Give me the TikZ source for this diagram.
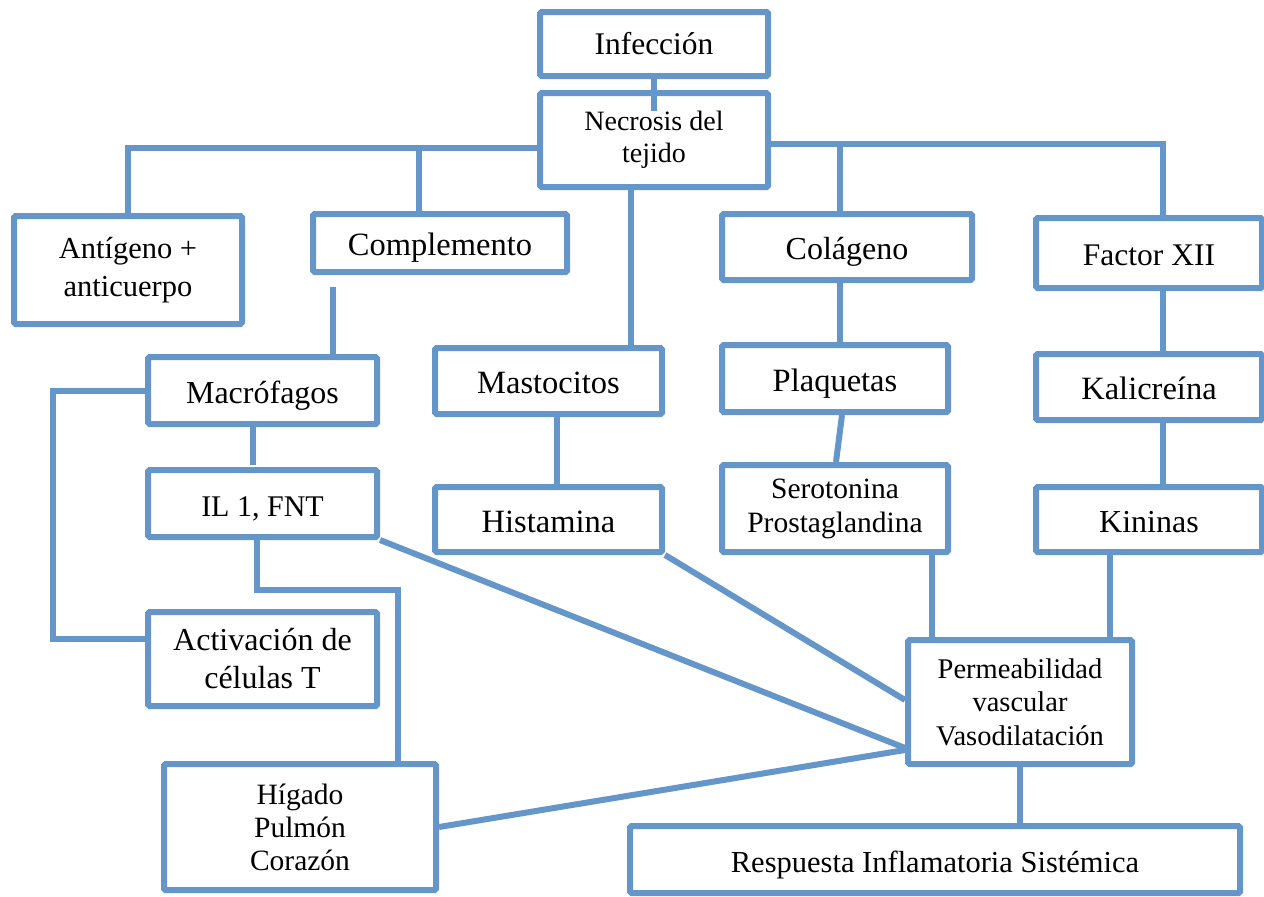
\documentclass[tikz,border=0pt]{standalone}
\usepackage{fontspec}
\setmainfont{Liberation Serif}
\definecolor{lineblue}{RGB}{100,150,202}
\tikzset{
  box/.style={draw=lineblue, line width=6pt, rounded corners=1.5pt, fill=white,
    inner sep=0pt, align=center, text=black},
  low/.style={text height=27pt, text depth=1.5pt},
  conn/.style={draw=lineblue, line width=6pt},
}
\newcommand{\fs}[2]{\fontsize{#1}{#2}\selectfont}
\begin{document}
\begin{tikzpicture}[x=1pt,y=-1pt]
\useasboundingbox (0,0) rectangle (1264,897);
% nodes
\node[box, minimum width=228pt, minimum height=64pt, font=\fs{31.5}{34}] (inf) at (654,44) {Infección};
\node[box, minimum width=228pt, minimum height=94pt, font=\fs{28}{32}] (nec) at (654,140) {Necrosis del\\tejido};
\node[box, minimum width=228pt, minimum height=108pt, font=\fs{30.5}{38}] (ant) at (128,270) {Antígeno +\\anticuerpo};
\node[box, low, minimum width=254pt, minimum height=58pt, font=\fs{32.5}{36}] (com) at (440,243) {Complemento};
\node[box, low, minimum width=250pt, minimum height=66pt, font=\fs{32}{36}] (col) at (847,247) {Colágeno};
\node[box, low, minimum width=226pt, minimum height=70pt, font=\fs{31.5}{36}] (fac) at (1149,253) {Factor XII};
\node[box, low, minimum width=229pt, minimum height=67pt, font=\fs{32}{36}] (mac) at (262.5,390.5) {Macrófagos};
\node[box, low, minimum width=227pt, minimum height=66pt, font=\fs{32.5}{36}] (mas) at (548.5,381) {Mastocitos};
\node[box, low, minimum width=226pt, minimum height=67pt, font=\fs{32.5}{36}] (pla) at (835,378.5) {Plaquetas};
\node[box, low, minimum width=226pt, minimum height=66pt, font=\fs{32.5}{36}] (kal) at (1149,387) {Kalicreína};
\node[box, low, minimum width=229pt, minimum height=67pt, font=\fs{30}{36}] (il) at (262.5,503.5) {IL 1, FNT};
\node[box, low, minimum width=227pt, minimum height=65pt, font=\fs{32.5}{36}] (his) at (548.5,519.5) {Histamina};
\node[box, minimum width=226pt, minimum height=87pt, font=\fs{29.5}{34}] (ser) at (835,508.5) {Serotonina\\Prostaglandina};
\node[box, low, minimum width=226pt, minimum height=65pt, font=\fs{32}{36}] (kin) at (1149,519.5) {Kininas};
\node[box, minimum width=229pt, minimum height=94pt, font=\fs{32}{38}] (act) at (262.5,659) {Activación de\\células T};
\node[box, minimum width=224pt, minimum height=124pt, font=\fs{28.5}{33.5}] (per) at (1020,702) {Permeabilidad\\vascular\\Vasodilatación};
\node[box, minimum width=272pt, minimum height=126pt, font=\fs{29.5}{33}] (hig) at (300,827) {Hígado\\Pulmón\\Corazón};
\node[box, low, minimum width=610pt, minimum height=67pt, font=\fs{30.5}{36}] (res) at (935,859.5) {Respuesta Inflamatoria Sistémica};
% connector anchor points
\coordinate (jl) at ([yshift=-8pt]nec.west);
\coordinate (jr) at ([yshift=-4pt]nec.east);
\coordinate (comT) at ([xshift=-21pt]com.north);
\coordinate (colT) at ([xshift=-7pt]col.north);
\coordinate (facT) at ([xshift=14pt]fac.north);
\coordinate (cm) at (333,287);
\coordinate (mi) at (253,465);
% connectors
\draw[conn] (inf.south) -- ++(0,32);
\draw[conn] (jl) -- (jl -| ant.north) -- (ant.north);
\draw[conn] (jl -| comT) -- (comT);
\draw[conn] (jr) -- (jr -| facT) -- (facT);
\draw[conn] (jr -| colT) -- (colT);
\draw[conn] ([xshift=-23pt,yshift=6pt]nec.south) -- ([xshift=82.5pt]mas.north);
\draw[conn] (cm) -- (cm |- mac.north);
\draw[conn] (mi |- mac.south) -- (mi);
\draw[conn] (mac.west) -- ++(-92,0) |- ([yshift=20pt]act.west);
\draw[conn] ([xshift=-5.5pt]il.south) -- ++(0,50) -| ([xshift=98pt]hig.north);
\draw[conn] ([xshift=8.5pt]mas.south) -- ([xshift=8.5pt]his.north);
\draw[conn] ([xshift=-7pt]col.south) -- ([xshift=5pt]pla.north);
\draw[conn] ([xshift=7pt]pla.south) -- ([xshift=1pt]ser.north);
\draw[conn] ([xshift=14pt]fac.south) -- ([xshift=14pt]kal.north);
\draw[conn] ([xshift=14pt]kal.south) -- ([xshift=14pt]kin.north);
\draw[conn] ([xshift=97pt]ser.south) -- ([xshift=-88pt]per.north);
\draw[conn] ([xshift=-39pt]kin.south) -- ([xshift=90pt]per.north);
\draw[conn] (per.south) -- ([xshift=85pt]res.north);
\draw[conn] (il.south east) -- ([yshift=-46pt]per.west);
\draw[conn] (his.south east) -- ([yshift=2pt]per.west);
\draw[conn] (hig.east) -- ([yshift=-48pt]per.west);
\end{tikzpicture}
\end{document}
